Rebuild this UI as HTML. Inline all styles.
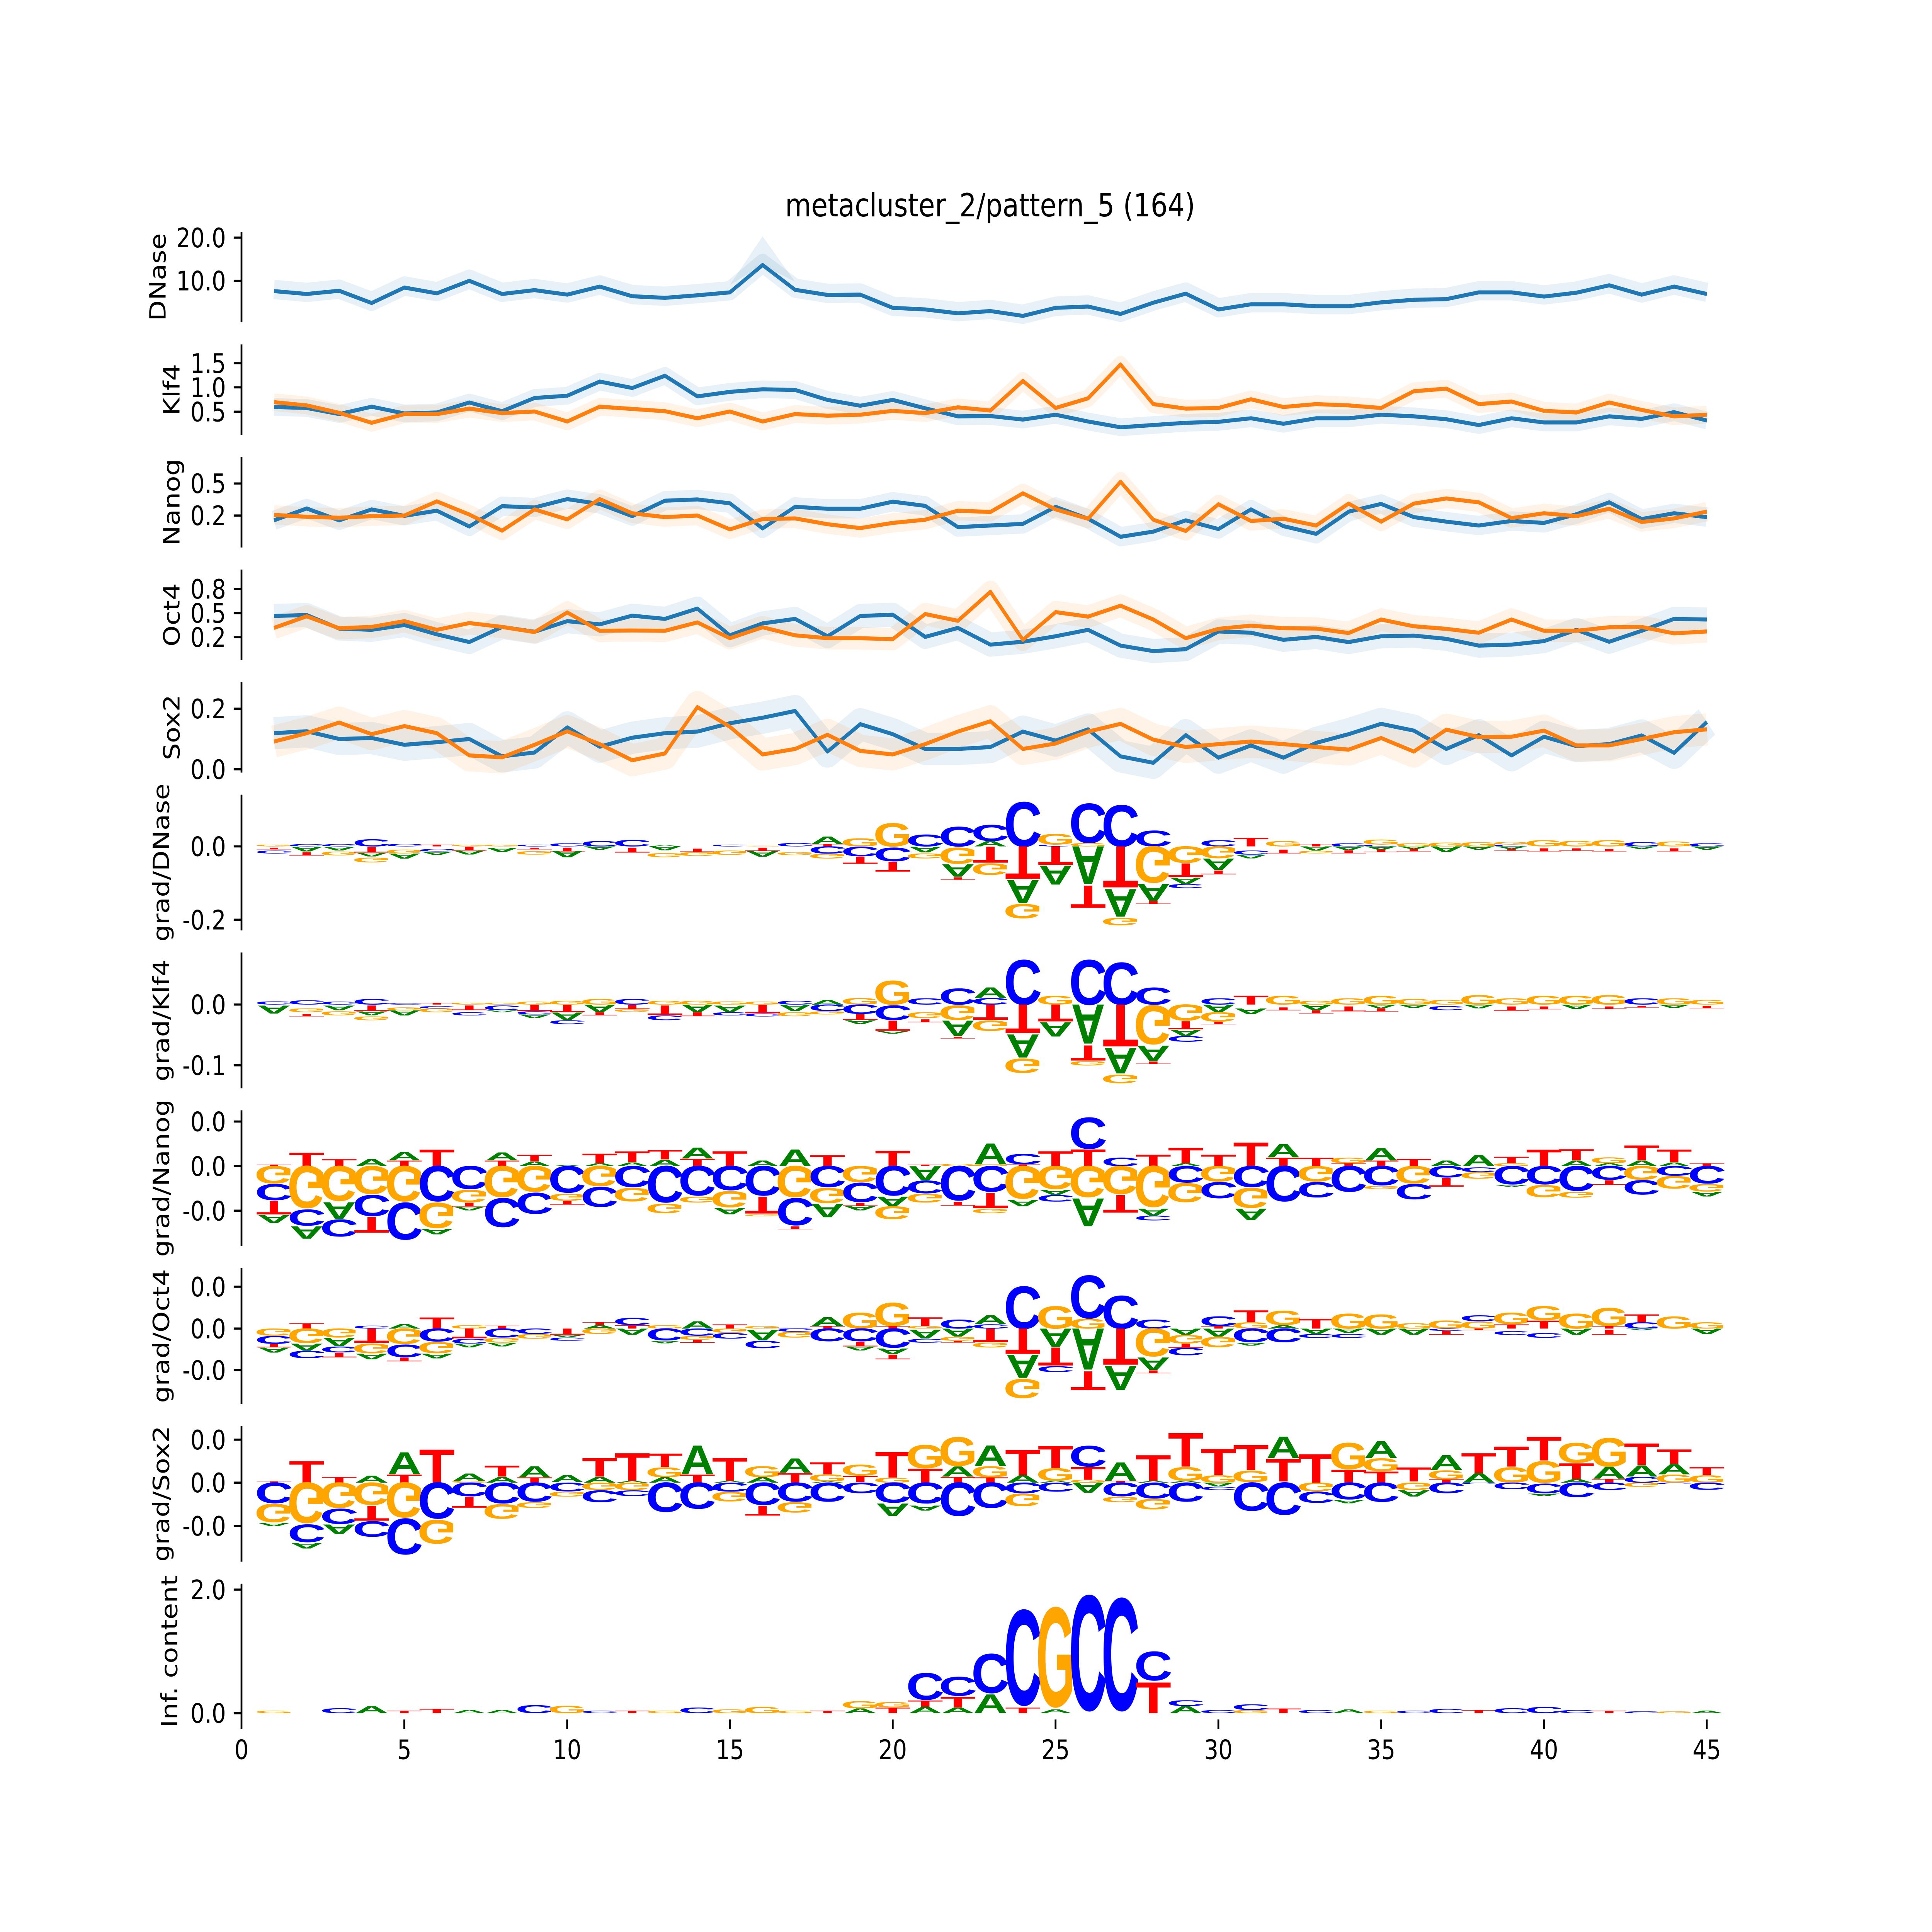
<!DOCTYPE html>
<html><head><meta charset="utf-8">
<style>
html,body{margin:0;padding:0;width:100%;height:100%;overflow:hidden;background:#fff}
svg{display:block;width:100vw;height:100vh}
.L text{font-family:"Liberation Sans",sans-serif;font-weight:bold;font-size:100px;text-anchor:middle}
.a{fill:#008000}.c{fill:#0000ff}.g{fill:#ffa500}.t{fill:#ff0000}
.tk{font-family:"DejaVu Sans","Liberation Sans",sans-serif;font-size:83.3px;fill:#000}
.yl text{text-anchor:end}
.xl text{text-anchor:middle}
.lab text{text-anchor:middle}
</style></head><body>
<svg width="7200" height="6000" viewBox="0 0 7200 6000" preserveAspectRatio="none" xmlns="http://www.w3.org/2000/svg">
<rect width="7200" height="6000" fill="#fff"/>
<text x="3690" y="672" font-family="DejaVu Sans, Liberation Sans, sans-serif" font-size="100" text-anchor="middle">metacluster_2/pattern_5 (164)</text>

<g stroke="#000" stroke-width="6.7" fill="none">
<line x1="900" y1="720" x2="900" y2="1001"/>
<line x1="900" y1="1069.6" x2="900" y2="1350.6"/>
<line x1="900" y1="1419.2" x2="900" y2="1700.2"/>
<line x1="900" y1="1768.8" x2="900" y2="2049.8"/>
<line x1="900" y1="2118.4" x2="900" y2="2399.4"/>
<line x1="900" y1="2468" x2="900" y2="2889.5"/>
<line x1="900" y1="2958.1" x2="900" y2="3379.6"/>
<line x1="900" y1="3448.2" x2="900" y2="3869.7"/>
<line x1="900" y1="3938.3" x2="900" y2="4359.8"/>
<line x1="900" y1="4428.4" x2="900" y2="4849.9"/>
<line x1="900" y1="4918.5" x2="900" y2="5340"/>
<path d="M871 738H900M871 872H900M871 1128H900M871 1203H900M871 1278.5H900M871 1501.5H900M871 1601H900M871 1829H900M871 1904H900M871 1979H900M871 2201H900M871 2389H900M871 2628.6H900M871 2856.4H900M871 3119.7H900M871 3308.3H900M871 3483H900M871 3621.5H900M871 3760H900M871 3996H900M871 4126H900M871 4255H900M871 4471H900M871 4604.6H900M871 4739H900M871 4936.7H900M871 5320.4H900"/>
<path d="M900 5340V5369M1506.75 5340V5369M2113.5 5340V5369M2720.25 5340V5369M3327 5340V5369M3933.75 5340V5369M4540.5 5340V5369M5147.25 5340V5369M5754 5340V5369M6360.75 5340V5369"/>
</g>

<g class="tk yl">
<text x="842" y="768">20.0</text><text x="842" y="902">10.0</text>
<text x="842" y="1158">1.5</text><text x="842" y="1233">1.0</text><text x="842" y="1308.5">0.5</text>
<text x="842" y="1531.5">0.5</text><text x="842" y="1631">0.2</text>
<text x="842" y="1859">0.8</text><text x="842" y="1934">0.5</text><text x="842" y="2009">0.2</text>
<text x="842" y="2231">0.2</text><text x="842" y="2419">0.0</text>
<text x="842" y="2658.6">0.0</text><text x="842" y="2886.4">-0.2</text>
<text x="842" y="3149.7">0.0</text><text x="842" y="3338.3">-0.1</text>
<text x="842" y="3513">0.0</text><text x="842" y="3651.5">0.0</text><text x="842" y="3790">-0.0</text>
<text x="842" y="4026">0.0</text><text x="842" y="4156">0.0</text><text x="842" y="4285">-0.0</text>
<text x="842" y="4501">0.0</text><text x="842" y="4634.6">0.0</text><text x="842" y="4769">-0.0</text>
<text x="842" y="4966.7">2.0</text><text x="842" y="5350.4">0.0</text>
</g>
<g class="tk xl">
<text x="900" y="5463">0</text><text x="1506.75" y="5463">5</text><text x="2113.5" y="5463">10</text><text x="2720.25" y="5463">15</text><text x="3327" y="5463">20</text><text x="3933.75" y="5463">25</text><text x="4540.5" y="5463">30</text><text x="5147.25" y="5463">35</text><text x="5754" y="5463">40</text><text x="6360.75" y="5463">45</text>
</g>
<g class="tk lab">
<text transform="translate(617 860.5) rotate(-90)">DNase</text>
<text transform="translate(669 1210) rotate(-90)">Klf4</text>
<text transform="translate(669 1559.7) rotate(-90)">Nanog</text>
<text transform="translate(669 1909.3) rotate(-90)">Oct4</text>
<text transform="translate(669 2258.9) rotate(-90)">Sox2</text>
<text transform="translate(630 2678.8) rotate(-90)">grad/DNase</text>
<text transform="translate(630 3168.9) rotate(-90)">grad/Klf4</text>
<text transform="translate(630 3659) rotate(-90)">grad/Nanog</text>
<text transform="translate(630 4149) rotate(-90)">grad/Oct4</text>
<text transform="translate(630 4639) rotate(-90)">grad/Sox2</text>
<text transform="translate(660 5129) rotate(-90)">Inf. content</text>
</g>

<g fill="none" stroke-linejoin="round" stroke-linecap="butt">
<polygon points="2720,885 2842,734 2963,875 2842,823" fill="#1f77b4" fill-opacity=".1" stroke="none"/>
<polyline stroke="#1f77b4" stroke-opacity=".1" stroke-width="60" points="1021,899 1143,908 1264,898 1385,936 1507,888 1628,906 1749,867 1871,908 1992,896 2114,910 2235,885 2356,915 2478,920 2599,912 2720,903 2842,818 2963,895 3084,911 3206,910 3327,951 3448,956 3570,968 3691,961 3812,976 3934,951 4055,947 4176,970 4298,935 4419,907 4541,956 4662,940 4783,940 4905,946 5026,946 5147,934 5269,926 5390,924 5511,903 5633,903 5754,916 5875,904 5997,881 6118,910 6239,885 6361,908"/>
<polyline stroke="#1f77b4" stroke-opacity=".1" stroke-width="55" points="1021,1264 1143,1267 1264,1286 1385,1263 1507,1284 1628,1281 1749,1250 1871,1277 1992,1236 2114,1229 2235,1185 2356,1205 2478,1167 2599,1231 2720,1217 2842,1209 2963,1211 3084,1242 3206,1260 3327,1242 3448,1268 3570,1293 3691,1292 3812,1303 3934,1288 4055,1309 4176,1327 4298,1320 4419,1313 4541,1310 4662,1299 4783,1316 4905,1299 5026,1299 5147,1288 5269,1293 5390,1302 5511,1320 5633,1299 5754,1312 5875,1312 5997,1293 6118,1301 6239,1280 6361,1306"/>
<polyline stroke="#ff7f0e" stroke-opacity=".1" stroke-width="55" points="1021,1249 1143,1259 1264,1282 1385,1313 1507,1286 1628,1286 1749,1269 1871,1283 1992,1278 2114,1309 2235,1263 2356,1270 2478,1277 2599,1299 2720,1278 2842,1309 2963,1286 3084,1291 3206,1288 3327,1276 3448,1283 3570,1265 3691,1275 3812,1183 3934,1267 4055,1237 4176,1132 4298,1255 4419,1269 4541,1267 4662,1240 4783,1264 4905,1255 5026,1259 5147,1267 5269,1215 5390,1207 5511,1255 5633,1247 5754,1276 5875,1281 5997,1250 6118,1273 6239,1293 6361,1288"/>
<polyline stroke="#1f77b4" stroke-opacity=".1" stroke-width="60" points="1021,1616 1143,1579 1264,1616 1385,1582 1507,1602 1628,1586 1749,1635 1871,1572 1992,1576 2114,1550 2235,1565 2356,1603 2478,1555 2599,1551 2720,1563 2842,1641 2963,1574 3084,1580 3206,1580 3327,1558 3448,1571 3570,1637 3691,1632 3812,1627 3934,1574 4055,1611 4176,1667 4298,1651 4419,1616 4541,1643 4662,1582 4783,1634 4905,1658 5026,1589 5147,1565 5269,1606 5390,1620 5511,1632 5633,1618 5754,1624 5875,1597 5997,1560 6118,1612 6239,1594 6361,1606"/>
<polyline stroke="#ff7f0e" stroke-opacity=".1" stroke-width="60" points="1021,1599 1143,1605 1264,1608 1385,1603 1507,1601 1628,1557 1749,1598 1871,1648 1992,1582 2114,1613 2235,1550 2356,1594 2478,1606 2599,1601 2720,1644 2842,1612 2963,1610 3084,1628 3206,1640 3327,1624 3448,1614 3570,1586 3691,1590 3812,1532 3934,1582 4055,1611 4176,1496 4298,1614 4419,1649 4541,1566 4662,1618 4783,1611 4905,1632 5026,1564 5147,1620 5269,1564 5390,1548 5511,1560 5633,1609 5754,1594 5875,1603 5997,1580 6118,1621 6239,1610 6361,1589"/>
<polyline stroke="#1f77b4" stroke-opacity=".1" stroke-width="75" points="1021,1913 1143,1910 1264,1952 1385,1956 1507,1941 1628,1970 1749,1994 1871,1947 1992,1962 2114,1929 2235,1939 2356,1912 2478,1922 2599,1890 2720,1973 2842,1936 2963,1922 3084,1976 3206,1913 3327,1909 3448,1978 3570,1950 3691,2002 3812,1993 3934,1976 4055,1956 4176,2005 4298,2022 4419,2016 4541,1961 4662,1965 4783,1987 4905,1978 5026,1994 5147,1976 5269,1974 5390,1984 5511,2005 5633,2002 5754,1991 5875,1956 5997,1993 6118,1959 6239,1922 6361,1924"/>
<polyline stroke="#ff7f0e" stroke-opacity=".1" stroke-width="70" points="1021,1950 1143,1914 1264,1951 1385,1947 1507,1929 1628,1956 1749,1935 1871,1947 1992,1963 2114,1902 2235,1959 2356,1958 2478,1959 2599,1933 2720,1982 2842,1948 2963,1973 3084,1982 3206,1982 3327,1985 3448,1907 3570,1928 3691,1838 3812,1987 3934,1901 4055,1915 4176,1881 4298,1924 4419,1982 4541,1953 4662,1943 4783,1951 4905,1952 5026,1966 5147,1924 5269,1945 5390,1953 5511,1965 5633,1924 5754,1959 5875,1959 5997,1948 6118,1947 6239,1967 6361,1961"/>
<polyline stroke="#1f77b4" stroke-opacity=".1" stroke-width="100" points="1021,2277 1143,2271 1264,2295 1385,2292 1507,2313 1628,2305 1749,2295 1871,2349 1992,2337 2114,2259 2235,2319 2356,2291 2478,2277 2599,2272 2720,2246 2842,2229 2963,2208 3084,2334 3206,2249 3327,2280 3448,2326 3570,2326 3691,2320 3812,2272 3934,2300 4055,2265 4176,2349 4298,2369 4419,2283 4541,2353 4662,2315 4783,2353 4905,2307 5026,2280 5147,2248 5269,2269 5390,2326 5511,2283 5633,2346 5754,2288 5875,2317 5997,2311 6118,2284 6239,2338 6361,2242"/>
<polyline stroke="#ff7f0e" stroke-opacity=".1" stroke-width="100" points="1021,2303 1143,2277 1264,2244 1385,2280 1507,2255 1628,2277 1749,2346 1871,2352 1992,2313 2114,2271 2235,2311 2356,2361 2478,2340 2599,2196 2720,2257 2842,2343 2963,2326 3084,2282 3206,2332 3327,2343 3448,2311 3570,2272 3691,2240 3812,2326 3934,2309 4055,2272 4176,2248 4298,2297 4419,2320 4541,2311 4662,2303 4783,2311 4905,2320 5026,2328 5147,2292 5269,2334 5390,2266 5511,2289 5633,2288 5754,2269 5875,2315 5997,2315 6118,2295 6239,2274 6361,2265"/>
</g>
<g fill="none" stroke-width="12.5" stroke-linejoin="round" stroke-linecap="butt">
<polyline stroke="#1f77b4" points="1021,904 1143,913 1264,903 1385,941 1507,893 1628,911 1749,872 1871,913 1992,901 2114,915 2235,890 2356,920 2478,925 2599,917 2720,908 2842,823 2963,900 3084,916 3206,915 3327,956 3448,961 3570,973 3691,966 3812,981 3934,956 4055,952 4176,975 4298,940 4419,912 4541,961 4662,945 4783,945 4905,951 5026,951 5147,939 5269,931 5390,929 5511,908 5633,908 5754,921 5875,909 5997,886 6118,915 6239,890 6361,913"/>
<polyline stroke="#1f77b4" points="1021,1264 1143,1267 1264,1286 1385,1263 1507,1284 1628,1281 1749,1250 1871,1277 1992,1236 2114,1229 2235,1185 2356,1205 2478,1167 2599,1231 2720,1217 2842,1209 2963,1211 3084,1242 3206,1260 3327,1242 3448,1268 3570,1293 3691,1292 3812,1303 3934,1288 4055,1309 4176,1327 4298,1320 4419,1313 4541,1310 4662,1299 4783,1316 4905,1299 5026,1299 5147,1288 5269,1293 5390,1302 5511,1320 5633,1299 5754,1312 5875,1312 5997,1293 6118,1301 6239,1280 6361,1306"/>
<polyline stroke="#ff7f0e" points="1021,1249 1143,1259 1264,1282 1385,1313 1507,1286 1628,1286 1749,1269 1871,1283 1992,1278 2114,1309 2235,1263 2356,1270 2478,1277 2599,1299 2720,1278 2842,1309 2963,1286 3084,1291 3206,1288 3327,1276 3448,1283 3570,1265 3691,1275 3812,1183 3934,1267 4055,1237 4176,1132 4298,1255 4419,1269 4541,1267 4662,1240 4783,1264 4905,1255 5026,1259 5147,1267 5269,1215 5390,1207 5511,1255 5633,1247 5754,1276 5875,1281 5997,1250 6118,1273 6239,1293 6361,1288"/>
<polyline stroke="#1f77b4" points="1021,1616 1143,1579 1264,1616 1385,1582 1507,1602 1628,1586 1749,1635 1871,1572 1992,1576 2114,1550 2235,1565 2356,1603 2478,1555 2599,1551 2720,1563 2842,1641 2963,1574 3084,1580 3206,1580 3327,1558 3448,1571 3570,1637 3691,1632 3812,1627 3934,1574 4055,1611 4176,1667 4298,1651 4419,1616 4541,1643 4662,1582 4783,1634 4905,1658 5026,1589 5147,1565 5269,1606 5390,1620 5511,1632 5633,1618 5754,1624 5875,1597 5997,1560 6118,1612 6239,1594 6361,1606"/>
<polyline stroke="#ff7f0e" points="1021,1599 1143,1605 1264,1608 1385,1603 1507,1601 1628,1557 1749,1598 1871,1648 1992,1582 2114,1613 2235,1550 2356,1594 2478,1606 2599,1601 2720,1644 2842,1612 2963,1610 3084,1628 3206,1640 3327,1624 3448,1614 3570,1586 3691,1590 3812,1532 3934,1582 4055,1611 4176,1496 4298,1614 4419,1649 4541,1566 4662,1618 4783,1611 4905,1632 5026,1564 5147,1620 5269,1564 5390,1548 5511,1560 5633,1609 5754,1594 5875,1603 5997,1580 6118,1621 6239,1610 6361,1589"/>
<polyline stroke="#1f77b4" points="1021,1913 1143,1910 1264,1952 1385,1956 1507,1941 1628,1970 1749,1994 1871,1947 1992,1962 2114,1929 2235,1939 2356,1912 2478,1922 2599,1890 2720,1973 2842,1936 2963,1922 3084,1976 3206,1913 3327,1909 3448,1978 3570,1950 3691,2002 3812,1993 3934,1976 4055,1956 4176,2005 4298,2022 4419,2016 4541,1961 4662,1965 4783,1987 4905,1978 5026,1994 5147,1976 5269,1974 5390,1984 5511,2005 5633,2002 5754,1991 5875,1956 5997,1993 6118,1959 6239,1922 6361,1924"/>
<polyline stroke="#ff7f0e" points="1021,1950 1143,1914 1264,1951 1385,1947 1507,1929 1628,1956 1749,1935 1871,1947 1992,1963 2114,1902 2235,1959 2356,1958 2478,1959 2599,1933 2720,1982 2842,1948 2963,1973 3084,1982 3206,1982 3327,1985 3448,1907 3570,1928 3691,1838 3812,1987 3934,1901 4055,1915 4176,1881 4298,1924 4419,1982 4541,1953 4662,1943 4783,1951 4905,1952 5026,1966 5147,1924 5269,1945 5390,1953 5511,1965 5633,1924 5754,1959 5875,1959 5997,1948 6118,1947 6239,1967 6361,1961"/>
<polyline stroke="#1f77b4" points="1021,2277 1143,2271 1264,2295 1385,2292 1507,2313 1628,2305 1749,2295 1871,2349 1992,2337 2114,2259 2235,2319 2356,2291 2478,2277 2599,2272 2720,2246 2842,2229 2963,2208 3084,2334 3206,2249 3327,2280 3448,2326 3570,2326 3691,2320 3812,2272 3934,2300 4055,2265 4176,2349 4298,2369 4419,2283 4541,2353 4662,2315 4783,2353 4905,2307 5026,2280 5147,2248 5269,2269 5390,2326 5511,2283 5633,2346 5754,2288 5875,2317 5997,2311 6118,2284 6239,2338 6361,2242"/>
<polyline stroke="#ff7f0e" points="1021,2303 1143,2277 1264,2244 1385,2280 1507,2255 1628,2277 1749,2346 1871,2352 1992,2313 2114,2271 2235,2311 2356,2361 2478,2340 2599,2196 2720,2257 2842,2343 2963,2326 3084,2282 3206,2332 3327,2343 3448,2311 3570,2272 3691,2240 3812,2326 3934,2309 4055,2272 4176,2248 4298,2297 4419,2320 4541,2311 4662,2303 4783,2311 4905,2320 5026,2328 5147,2292 5269,2334 5390,2266 5511,2289 5633,2288 5754,2269 5875,2315 5997,2315 6118,2295 6239,2274 6361,2265"/>
</g>

<g class="L" transform="translate(0 2628.6)">
<text class="g" transform="matrix(1.87 0 0 .08 1021 0)">G</text><text class="t" transform="matrix(2.19 0 0 -.08 1021 4)">T</text><text class="c" transform="matrix(1.98 0 0 -.13 1021 13)">C</text>
<text class="c" transform="matrix(1.98 0 0 .1 1143 0)">C</text><text class="a" transform="matrix(1.76 0 0 -.21 1143 1)">A</text><text class="t" transform="matrix(2.19 0 0 -.15 1143 18)">T</text>
<text class="c" transform="matrix(1.98 0 0 .1 1264 0)">C</text><text class="a" transform="matrix(1.76 0 0 -.15 1264 2)">A</text><text class="g" transform="matrix(1.87 0 0 -.17 1264 16)">G</text>
<text class="c" transform="matrix(1.98 0 0 .32 1385 0)">C</text><text class="t" transform="matrix(2.19 0 0 -.25 1385 2)">T</text><text class="a" transform="matrix(1.76 0 0 -.17 1385 20)">A</text><text class="g" transform="matrix(1.87 0 0 -.21 1385 35)">G</text>
<text class="c" transform="matrix(1.98 0 0 .11 1507 0)">C</text><text class="g" transform="matrix(1.87 0 0 -.17 1507 10)">G</text><text class="a" transform="matrix(1.76 0 0 -.22 1507 22)">A</text>
<text class="t" transform="matrix(2.19 0 0 .08 1628 0)">T</text><text class="c" transform="matrix(1.98 0 0 -.11 1628 8)">C</text><text class="a" transform="matrix(1.76 0 0 -.14 1628 16)">A</text>
<text class="g" transform="matrix(1.87 0 0 .07 1749 0)">G</text><text class="t" transform="matrix(2.19 0 0 -.17 1749 1)">T</text><text class="a" transform="matrix(1.76 0 0 -.18 1749 13)">A</text>
<text class="g" transform="matrix(1.87 0 0 .07 1871 0)">G</text><text class="a" transform="matrix(1.76 0 0 -.19 1871 4)">A</text>
<text class="c" transform="matrix(1.98 0 0 .08 1992 0)">C</text><text class="t" transform="matrix(2.19 0 0 -.08 1992 4)">T</text><text class="g" transform="matrix(1.87 0 0 -.15 1992 15)">G</text>
<text class="c" transform="matrix(1.98 0 0 .14 2114 0)">C</text><text class="t" transform="matrix(2.19 0 0 -.17 2114 4)">T</text><text class="a" transform="matrix(1.76 0 0 -.29 2114 14)">A</text>
<text class="c" transform="matrix(1.98 0 0 .24 2235 0)">C</text><text class="a" transform="matrix(1.76 0 0 -.14 2235 0)">A</text>
<text class="c" transform="matrix(1.98 0 0 .29 2356 0)">C</text><text class="t" transform="matrix(2.19 0 0 -.22 2356 4)">T</text>
<text class="a" transform="matrix(1.76 0 0 .06 2478 0)">A</text><text class="a" transform="matrix(1.76 0 0 -.18 2478 0)">A</text><text class="g" transform="matrix(1.87 0 0 -.18 2478 21)">G</text>
<text class="t" transform="matrix(2.19 0 0 -.15 2599 7)">T</text><text class="g" transform="matrix(1.87 0 0 -.17 2599 18)">G</text>
<text class="c" transform="matrix(1.98 0 0 .08 2720 0)">C</text><text class="g" transform="matrix(1.87 0 0 -.19 2720 13)">G</text>
<text class="g" transform="matrix(1.87 0 0 .03 2842 0)">G</text><text class="t" transform="matrix(2.19 0 0 -.15 2842 4)">T</text><text class="a" transform="matrix(1.76 0 0 -.24 2842 15)">A</text>
<text class="c" transform="matrix(1.98 0 0 .15 2963 0)">C</text><text class="g" transform="matrix(1.87 0 0 -.13 2963 18)">G</text>
<text class="a" transform="matrix(1.76 0 0 .33 3084 -8)">A</text><text class="t" transform="matrix(2.19 0 0 .11 3084 0)">T</text><text class="c" transform="matrix(1.98 0 0 -.32 3084 0)">C</text><text class="g" transform="matrix(1.87 0 0 -.21 3084 23)">G</text>
<text class="g" transform="matrix(1.87 0 0 .36 3206 0)">G</text><text class="c" transform="matrix(1.98 0 0 -.43 3206 1)">C</text><text class="t" transform="matrix(2.19 0 0 -.32 3206 32)">T</text>
<text class="g" transform="matrix(1.87 0 0 1.04 3327 0)">G</text><text class="c" transform="matrix(1.98 0 0 -.61 3327 4)">C</text><text class="t" transform="matrix(2.19 0 0 -.44 3327 48)">T</text>
<text class="c" transform="matrix(1.98 0 0 .53 3448 0)">C</text><text class="a" transform="matrix(1.76 0 0 -.26 3448 1)">A</text><text class="g" transform="matrix(1.87 0 0 -.22 3448 22)">G</text>
<text class="c" transform="matrix(1.98 0 0 .88 3570 0)">C</text><text class="g" transform="matrix(1.87 0 0 -.72 3570 4)">G</text><text class="a" transform="matrix(1.76 0 0 -.56 3570 56)">A</text><text class="t" transform="matrix(2.19 0 0 -.11 3570 96)">T</text>
<text class="c" transform="matrix(1.98 0 0 .72 3691 -17)">C</text><text class="a" transform="matrix(1.76 0 0 .24 3691 0)">A</text><text class="t" transform="matrix(2.19 0 0 -.72 3691 1)">T</text><text class="g" transform="matrix(1.87 0 0 -.51 3691 53)">G</text>
<text class="c" transform="matrix(1.98 0 0 1.99 3812 0)">C</text><text class="t" transform="matrix(2.19 0 0 -1.46 3812 0)">T</text><text class="a" transform="matrix(1.76 0 0 -1.03 3812 105)">A</text><text class="g" transform="matrix(1.87 0 0 -.64 3812 179)">G</text>
<text class="g" transform="matrix(1.87 0 0 .47 3934 -6)">G</text><text class="c" transform="matrix(1.98 0 0 .08 3934 0)">C</text><text class="t" transform="matrix(2.19 0 0 -.83 3934 0)">T</text><text class="a" transform="matrix(1.76 0 0 -.85 3934 60)">A</text>
<text class="c" transform="matrix(1.98 0 0 1.76 4055 -11)">C</text><text class="g" transform="matrix(1.87 0 0 .15 4055 0)">G</text><text class="a" transform="matrix(1.76 0 0 -1.69 4055 0)">A</text><text class="t" transform="matrix(2.19 0 0 -1 4055 122)">T</text>
<text class="c" transform="matrix(1.98 0 0 1.85 4176 0)">C</text><text class="t" transform="matrix(2.19 0 0 -1.85 4176 0)">T</text><text class="a" transform="matrix(1.76 0 0 -1.24 4176 133)">A</text><text class="g" transform="matrix(1.87 0 0 -.33 4176 222)">G</text>
<text class="c" transform="matrix(1.98 0 0 .71 4298 0)">C</text><text class="g" transform="matrix(1.87 0 0 -1.63 4298 0)">G</text><text class="a" transform="matrix(1.76 0 0 -.74 4298 117)">A</text><text class="t" transform="matrix(2.19 0 0 -.13 4298 170)">T</text>
<text class="g" transform="matrix(1.87 0 0 -.74 4419 0)">G</text><text class="t" transform="matrix(2.19 0 0 -.61 4419 53)">T</text><text class="a" transform="matrix(1.76 0 0 -.28 4419 97)">A</text><text class="c" transform="matrix(1.98 0 0 -.18 4419 117)">C</text>
<text class="c" transform="matrix(1.98 0 0 .28 4541 0)">C</text><text class="g" transform="matrix(1.87 0 0 -.53 4541 0)">G</text><text class="a" transform="matrix(1.76 0 0 -.51 4541 38)">A</text><text class="t" transform="matrix(2.19 0 0 -.17 4541 75)">T</text>
<text class="t" transform="matrix(2.19 0 0 .39 4662 0)">T</text><text class="c" transform="matrix(1.98 0 0 -.18 4662 13)">C</text><text class="a" transform="matrix(1.76 0 0 -.17 4662 26)">A</text>
<text class="g" transform="matrix(1.87 0 0 .24 4783 0)">G</text><text class="t" transform="matrix(2.19 0 0 -.17 4783 10)">T</text>
<text class="t" transform="matrix(2.19 0 0 .11 4905 0)">T</text><text class="a" transform="matrix(1.76 0 0 -.19 4905 0)">A</text><text class="g" transform="matrix(1.87 0 0 -.11 4905 14)">G</text>
<text class="c" transform="matrix(1.98 0 0 .14 5026 0)">C</text><text class="a" transform="matrix(1.76 0 0 -.17 5026 0)">A</text><text class="t" transform="matrix(2.19 0 0 -.14 5026 12)">T</text>
<text class="g" transform="matrix(1.87 0 0 .22 5147 -6)">G</text><text class="c" transform="matrix(1.98 0 0 .08 5147 0)">C</text><text class="a" transform="matrix(1.76 0 0 -.14 5147 0)">A</text><text class="t" transform="matrix(2.19 0 0 -.11 5147 10)">T</text>
<text class="g" transform="matrix(1.87 0 0 .14 5269 0)">G</text><text class="a" transform="matrix(1.76 0 0 -.11 5269 0)">A</text><text class="t" transform="matrix(2.19 0 0 -.11 5269 8)">T</text>
<text class="g" transform="matrix(1.87 0 0 .17 5390 0)">G</text><text class="a" transform="matrix(1.76 0 0 -.25 5390 0)">A</text>
<text class="g" transform="matrix(1.87 0 0 .19 5511 0)">G</text><text class="a" transform="matrix(1.76 0 0 -.14 5511 0)">A</text>
<text class="g" transform="matrix(1.87 0 0 .11 5633 -6)">G</text><text class="c" transform="matrix(1.98 0 0 .08 5633 0)">C</text><text class="a" transform="matrix(1.76 0 0 -.11 5633 0)">A</text><text class="t" transform="matrix(2.19 0 0 -.08 5633 8)">T</text>
<text class="g" transform="matrix(1.87 0 0 .28 5754 0)">G</text><text class="t" transform="matrix(2.19 0 0 -.14 5754 6)">T</text>
<text class="g" transform="matrix(1.87 0 0 .25 5875 0)">G</text><text class="t" transform="matrix(2.19 0 0 -.11 5875 6)">T</text>
<text class="g" transform="matrix(1.87 0 0 .28 5997 0)">G</text><text class="t" transform="matrix(2.19 0 0 -.11 5997 8)">T</text>
<text class="c" transform="matrix(1.98 0 0 .19 6118 0)">C</text><text class="a" transform="matrix(1.76 0 0 -.11 6118 0)">A</text>
<text class="g" transform="matrix(1.87 0 0 .22 6239 0)">G</text><text class="t" transform="matrix(2.19 0 0 -.14 6239 6)">T</text>
<text class="c" transform="matrix(1.98 0 0 .14 6361 0)">C</text><text class="a" transform="matrix(1.76 0 0 -.14 6361 0)">A</text>
</g>

<g class="L" transform="translate(0 3119.7)">
<text class="c" transform="matrix(1.98 0 0 .14 1021 0)">C</text><text class="a" transform="matrix(1.76 0 0 -.35 1021 3)">A</text>
<text class="c" transform="matrix(1.98 0 0 .19 1143 0)">C</text><text class="g" transform="matrix(1.87 0 0 -.17 1143 12)">G</text><text class="t" transform="matrix(2.19 0 0 -.1 1143 30)">T</text>
<text class="c" transform="matrix(1.98 0 0 .13 1264 0)">C</text><text class="a" transform="matrix(1.76 0 0 -.21 1264 3)">A</text><text class="g" transform="matrix(1.87 0 0 -.18 1264 21)">G</text>
<text class="c" transform="matrix(1.98 0 0 .25 1385 0)">C</text><text class="t" transform="matrix(2.19 0 0 -.25 1385 3)">T</text><text class="a" transform="matrix(1.76 0 0 -.18 1385 21)">A</text><text class="g" transform="matrix(1.87 0 0 -.17 1385 37)">G</text>
<text class="c" transform="matrix(1.98 0 0 .06 1507 0)">C</text><text class="g" transform="matrix(1.87 0 0 -.13 1507 9)">G</text><text class="a" transform="matrix(1.76 0 0 -.22 1507 18)">A</text>
<text class="t" transform="matrix(2.19 0 0 .07 1628 0)">T</text><text class="c" transform="matrix(1.98 0 0 -.1 1628 5)">C</text><text class="g" transform="matrix(1.87 0 0 -.17 1628 12)">G</text>
<text class="g" transform="matrix(1.87 0 0 .08 1749 0)">G</text><text class="t" transform="matrix(2.19 0 0 -.21 1749 3)">T</text><text class="c" transform="matrix(1.98 0 0 -.14 1749 24)">C</text>
<text class="g" transform="matrix(1.87 0 0 .08 1871 0)">G</text><text class="c" transform="matrix(1.98 0 0 -.21 1871 3)">C</text><text class="a" transform="matrix(1.76 0 0 -.08 1871 18)">A</text>
<text class="g" transform="matrix(1.87 0 0 .13 1992 0)">G</text><text class="t" transform="matrix(2.19 0 0 -.28 1992 1)">T</text><text class="c" transform="matrix(1.98 0 0 -.14 1992 21)">C</text><text class="a" transform="matrix(1.76 0 0 -.17 1992 31)">A</text>
<text class="g" transform="matrix(1.87 0 0 .17 2114 0)">G</text><text class="t" transform="matrix(2.19 0 0 -.33 2114 1)">T</text><text class="a" transform="matrix(1.76 0 0 -.33 2114 25)">A</text><text class="c" transform="matrix(1.98 0 0 -.17 2114 49)">C</text>
<text class="g" transform="matrix(1.87 0 0 .25 2235 0)">G</text><text class="a" transform="matrix(1.76 0 0 -.33 2235 0)">A</text><text class="t" transform="matrix(2.19 0 0 -.14 2235 24)">T</text>
<text class="c" transform="matrix(1.98 0 0 .25 2356 0)">C</text><text class="t" transform="matrix(2.19 0 0 -.19 2356 1)">T</text><text class="g" transform="matrix(1.87 0 0 -.11 2356 15)">G</text>
<text class="g" transform="matrix(1.87 0 0 .17 2478 0)">G</text><text class="t" transform="matrix(2.19 0 0 -.43 2478 3)">T</text><text class="c" transform="matrix(1.98 0 0 -.21 2478 34)">C</text>
<text class="g" transform="matrix(1.87 0 0 .17 2599 0)">G</text><text class="a" transform="matrix(1.76 0 0 -.33 2599 0)">A</text><text class="t" transform="matrix(2.19 0 0 -.18 2599 24)">T</text>
<text class="g" transform="matrix(1.87 0 0 .14 2720 0)">G</text><text class="a" transform="matrix(1.76 0 0 -.29 2720 3)">A</text><text class="c" transform="matrix(1.98 0 0 -.14 2720 24)">C</text>
<text class="g" transform="matrix(1.87 0 0 .13 2842 0)">G</text><text class="t" transform="matrix(2.19 0 0 -.38 2842 1)">T</text><text class="c" transform="matrix(1.98 0 0 -.13 2842 28)">C</text>
<text class="c" transform="matrix(1.98 0 0 .17 2963 0)">C</text><text class="a" transform="matrix(1.76 0 0 -.29 2963 0)">A</text><text class="g" transform="matrix(1.87 0 0 -.18 2963 24)">G</text>
<text class="a" transform="matrix(1.76 0 0 .21 3084 0)">A</text><text class="c" transform="matrix(1.98 0 0 -.29 3084 0)">C</text><text class="g" transform="matrix(1.87 0 0 -.14 3084 21)">G</text>
<text class="g" transform="matrix(1.87 0 0 .29 3206 0)">G</text><text class="c" transform="matrix(1.98 0 0 -.42 3206 0)">C</text><text class="t" transform="matrix(2.19 0 0 -.26 3206 30)">T</text><text class="a" transform="matrix(1.76 0 0 -.17 3206 49)">A</text>
<text class="g" transform="matrix(1.87 0 0 1.07 3327 0)">G</text><text class="c" transform="matrix(1.98 0 0 -.65 3327 3)">C</text><text class="t" transform="matrix(2.19 0 0 -.46 3327 50)">T</text><text class="a" transform="matrix(1.76 0 0 -.1 3327 83)">A</text>
<text class="c" transform="matrix(1.98 0 0 .28 3448 0)">C</text><text class="g" transform="matrix(1.87 0 0 -.26 3448 24)">G</text><text class="t" transform="matrix(2.19 0 0 -.13 3448 46)">T</text>
<text class="c" transform="matrix(1.98 0 0 .72 3570 0)">C</text><text class="g" transform="matrix(1.87 0 0 -.65 3570 3)">G</text><text class="a" transform="matrix(1.76 0 0 -.69 3570 50)">A</text><text class="t" transform="matrix(2.19 0 0 -.08 3570 100)">T</text>
<text class="a" transform="matrix(1.76 0 0 .47 3691 -21)">A</text><text class="c" transform="matrix(1.98 0 0 .29 3691 0)">C</text><text class="t" transform="matrix(2.19 0 0 -.69 3691 0)">T</text><text class="g" transform="matrix(1.87 0 0 -.46 3691 50)">G</text>
<text class="c" transform="matrix(1.98 0 0 2 3812 0)">C</text><text class="t" transform="matrix(2.19 0 0 -1.29 3812 0)">T</text><text class="a" transform="matrix(1.76 0 0 -1.04 3812 93)">A</text><text class="g" transform="matrix(1.87 0 0 -.64 3812 168)">G</text>
<text class="g" transform="matrix(1.87 0 0 .39 3934 0)">G</text><text class="t" transform="matrix(2.19 0 0 -.76 3934 0)">T</text><text class="a" transform="matrix(1.76 0 0 -.64 3934 55)">A</text>
<text class="c" transform="matrix(1.98 0 0 2 4055 0)">C</text><text class="a" transform="matrix(1.76 0 0 -1.76 4055 0)">A</text><text class="t" transform="matrix(2.19 0 0 -.68 4055 127)">T</text><text class="g" transform="matrix(1.87 0 0 -.19 4055 176)">G</text>
<text class="c" transform="matrix(1.98 0 0 1.88 4176 0)">C</text><text class="t" transform="matrix(2.19 0 0 -1.89 4176 0)">T</text><text class="a" transform="matrix(1.76 0 0 -1.14 4176 136)">A</text><text class="g" transform="matrix(1.87 0 0 -.38 4176 218)">G</text>
<text class="c" transform="matrix(1.98 0 0 .76 4298 0)">C</text><text class="g" transform="matrix(1.87 0 0 -1.74 4298 3)">G</text><text class="a" transform="matrix(1.76 0 0 -.68 4298 128)">A</text><text class="t" transform="matrix(2.19 0 0 -.11 4298 177)">T</text>
<text class="g" transform="matrix(1.87 0 0 -.72 4419 0)">G</text><text class="t" transform="matrix(2.19 0 0 -.36 4419 52)">T</text><text class="a" transform="matrix(1.76 0 0 -.28 4419 78)">A</text><text class="c" transform="matrix(1.98 0 0 -.25 4419 98)">C</text>
<text class="c" transform="matrix(1.98 0 0 .28 4541 0)">C</text><text class="a" transform="matrix(1.76 0 0 -.33 4541 0)">A</text><text class="g" transform="matrix(1.87 0 0 -.42 4541 24)">G</text><text class="t" transform="matrix(2.19 0 0 -.11 4541 54)">T</text>
<text class="t" transform="matrix(2.19 0 0 .4 4662 0)">T</text><text class="a" transform="matrix(1.76 0 0 -.26 4662 12)">A</text>
<text class="g" transform="matrix(1.87 0 0 .39 4783 0)">G</text><text class="t" transform="matrix(2.19 0 0 -.13 4783 9)">T</text>
<text class="g" transform="matrix(1.87 0 0 .17 4905 0)">G</text><text class="a" transform="matrix(1.76 0 0 -.25 4905 0)">A</text><text class="t" transform="matrix(2.19 0 0 -.14 4905 18)">T</text>
<text class="g" transform="matrix(1.87 0 0 .28 5026 0)">G</text><text class="t" transform="matrix(2.19 0 0 -.22 5026 6)">T</text>
<text class="g" transform="matrix(1.87 0 0 .39 5147 0)">G</text><text class="a" transform="matrix(1.76 0 0 -.17 5147 0)">A</text><text class="t" transform="matrix(2.19 0 0 -.14 5147 12)">T</text>
<text class="g" transform="matrix(1.87 0 0 .25 5269 0)">G</text><text class="a" transform="matrix(1.76 0 0 -.14 5269 0)">A</text>
<text class="g" transform="matrix(1.87 0 0 .21 5390 0)">G</text><text class="c" transform="matrix(1.98 0 0 -.18 5390 5)">C</text>
<text class="g" transform="matrix(1.87 0 0 .42 5511 0)">G</text><text class="a" transform="matrix(1.76 0 0 -.17 5511 0)">A</text>
<text class="g" transform="matrix(1.87 0 0 .28 5633 0)">G</text><text class="t" transform="matrix(2.19 0 0 -.19 5633 6)">T</text>
<text class="g" transform="matrix(1.87 0 0 .39 5754 0)">G</text><text class="t" transform="matrix(2.19 0 0 -.13 5754 6)">T</text>
<text class="g" transform="matrix(1.87 0 0 .39 5875 0)">G</text><text class="a" transform="matrix(1.76 0 0 -.19 5875 0)">A</text>
<text class="g" transform="matrix(1.87 0 0 .42 5997 0)">G</text><text class="t" transform="matrix(2.19 0 0 -.11 5997 6)">T</text>
<text class="c" transform="matrix(1.98 0 0 .28 6118 0)">C</text><text class="t" transform="matrix(2.19 0 0 -.08 6118 4)">T</text>
<text class="g" transform="matrix(1.87 0 0 .28 6239 0)">G</text><text class="a" transform="matrix(1.76 0 0 -.14 6239 0)">A</text>
<text class="g" transform="matrix(1.87 0 0 .21 6361 0)">G</text><text class="t" transform="matrix(2.19 0 0 -.11 6361 4)">T</text>
</g>

<g class="L" transform="translate(0 3621.5)">
<text class="t" transform="matrix(2.19 0 0 .07 1021 0)">T</text><text class="g" transform="matrix(1.87 0 0 -.78 1021 0)">G</text><text class="c" transform="matrix(1.98 0 0 -.72 1021 56)">C</text><text class="t" transform="matrix(2.19 0 0 -.61 1021 108)">T</text><text class="a" transform="matrix(1.76 0 0 -.36 1021 152)">A</text>
<text class="t" transform="matrix(2.19 0 0 .6 1143 0)">T</text><text class="g" transform="matrix(1.87 0 0 -1.88 1143 0)">G</text><text class="c" transform="matrix(1.98 0 0 -.72 1143 135)">C</text><text class="a" transform="matrix(1.76 0 0 -.56 1143 187)">A</text>
<text class="t" transform="matrix(2.19 0 0 .31 1264 0)">T</text><text class="g" transform="matrix(1.87 0 0 -1.56 1264 0)">G</text><text class="a" transform="matrix(1.76 0 0 -.75 1264 112)">A</text><text class="c" transform="matrix(1.98 0 0 -.76 1264 166)">C</text>
<text class="a" transform="matrix(1.76 0 0 .31 1385 0)">A</text><text class="g" transform="matrix(1.87 0 0 -1.25 1385 0)">G</text><text class="c" transform="matrix(1.98 0 0 -.94 1385 90)">C</text><text class="t" transform="matrix(2.19 0 0 -.71 1385 158)">T</text>
<text class="a" transform="matrix(1.76 0 0 .38 1507 -18)">A</text><text class="t" transform="matrix(2.19 0 0 .25 1507 0)">T</text><text class="g" transform="matrix(1.87 0 0 -1.58 1507 0)">G</text><text class="c" transform="matrix(1.98 0 0 -1.65 1507 114)">C</text>
<text class="t" transform="matrix(2.19 0 0 .74 1628 0)">T</text><text class="c" transform="matrix(1.98 0 0 -1.58 1628 0)">C</text><text class="g" transform="matrix(1.87 0 0 -1.13 1628 114)">G</text><text class="a" transform="matrix(1.76 0 0 -.24 1628 195)">A</text>
<text class="c" transform="matrix(1.98 0 0 -1.03 1749 0)">C</text><text class="g" transform="matrix(1.87 0 0 -.56 1749 74)">G</text><text class="t" transform="matrix(2.19 0 0 -.17 1749 114)">T</text><text class="a" transform="matrix(1.76 0 0 -.17 1749 126)">A</text>
<text class="a" transform="matrix(1.76 0 0 .35 1871 -18)">A</text><text class="t" transform="matrix(2.19 0 0 .25 1871 0)">T</text><text class="g" transform="matrix(1.87 0 0 -1.39 1871 0)">G</text><text class="c" transform="matrix(1.98 0 0 -1.29 1871 100)">C</text>
<text class="t" transform="matrix(2.19 0 0 .29 1992 -15)">T</text><text class="a" transform="matrix(1.76 0 0 .21 1992 0)">A</text><text class="g" transform="matrix(1.87 0 0 -1.15 1992 0)">G</text><text class="c" transform="matrix(1.98 0 0 -.94 1992 83)">C</text>
<text class="a" transform="matrix(1.76 0 0 .06 2114 0)">A</text><text class="c" transform="matrix(1.98 0 0 -1.19 2114 0)">C</text><text class="g" transform="matrix(1.87 0 0 -.31 2114 86)">G</text><text class="t" transform="matrix(2.19 0 0 -.17 2114 108)">T</text>
<text class="t" transform="matrix(2.19 0 0 .43 2235 -9)">T</text><text class="a" transform="matrix(1.76 0 0 .13 2235 0)">A</text><text class="g" transform="matrix(1.87 0 0 -.9 2235 0)">G</text><text class="c" transform="matrix(1.98 0 0 -.89 2235 65)">C</text>
<text class="t" transform="matrix(2.19 0 0 .49 2356 -12)">T</text><text class="a" transform="matrix(1.76 0 0 .17 2356 0)">A</text><text class="c" transform="matrix(1.98 0 0 -.94 2356 0)">C</text><text class="g" transform="matrix(1.87 0 0 -.6 2356 68)">G</text>
<text class="t" transform="matrix(2.19 0 0 .42 2478 -21)">T</text><text class="a" transform="matrix(1.76 0 0 .29 2478 0)">A</text><text class="c" transform="matrix(1.98 0 0 -1.63 2478 0)">C</text><text class="g" transform="matrix(1.87 0 0 -.42 2478 117)">G</text>
<text class="a" transform="matrix(1.76 0 0 .49 2599 -24)">A</text><text class="t" transform="matrix(2.19 0 0 .33 2599 0)">T</text><text class="c" transform="matrix(1.98 0 0 -1.32 2599 0)">C</text><text class="g" transform="matrix(1.87 0 0 -.26 2599 95)">G</text>
<text class="t" transform="matrix(2.19 0 0 .67 2720 0)">T</text><text class="c" transform="matrix(1.98 0 0 -1.08 2720 0)">C</text><text class="g" transform="matrix(1.87 0 0 -.72 2720 78)">G</text><text class="a" transform="matrix(1.76 0 0 -.28 2720 130)">A</text>
<text class="a" transform="matrix(1.76 0 0 .25 2842 0)">A</text><text class="c" transform="matrix(1.98 0 0 -1.32 2842 0)">C</text><text class="t" transform="matrix(2.19 0 0 -.76 2842 95)">T</text><text class="g" transform="matrix(1.87 0 0 -.08 2842 150)">G</text>
<text class="a" transform="matrix(1.76 0 0 .75 2963 0)">A</text><text class="g" transform="matrix(1.87 0 0 -1.39 2963 0)">G</text><text class="c" transform="matrix(1.98 0 0 -1.21 2963 100)">C</text><text class="t" transform="matrix(2.19 0 0 -.13 2963 187)">T</text>
<text class="t" transform="matrix(2.19 0 0 .49 3084 0)">T</text><text class="c" transform="matrix(1.98 0 0 -.94 3084 0)">C</text><text class="g" transform="matrix(1.87 0 0 -.68 3084 68)">G</text><text class="a" transform="matrix(1.76 0 0 -.6 3084 117)">A</text>
<text class="g" transform="matrix(1.87 0 0 -.72 3206 0)">G</text><text class="c" transform="matrix(1.98 0 0 -.86 3206 52)">C</text><text class="t" transform="matrix(2.19 0 0 -.14 3206 114)">T</text><text class="a" transform="matrix(1.76 0 0 -.19 3206 124)">A</text>
<text class="t" transform="matrix(2.19 0 0 .69 3327 0)">T</text><text class="c" transform="matrix(1.98 0 0 -1.32 3327 0)">C</text><text class="a" transform="matrix(1.76 0 0 -.42 3327 95)">A</text><text class="g" transform="matrix(1.87 0 0 -.57 3327 125)">G</text>
<text class="t" transform="matrix(2.19 0 0 .07 3448 0)">T</text><text class="a" transform="matrix(1.76 0 0 -.63 3448 0)">A</text><text class="c" transform="matrix(1.98 0 0 -.57 3448 45)">C</text><text class="g" transform="matrix(1.87 0 0 -.39 3448 86)">G</text>
<text class="g" transform="matrix(1.87 0 0 .1 3570 0)">G</text><text class="c" transform="matrix(1.98 0 0 -1.54 3570 0)">C</text><text class="t" transform="matrix(2.19 0 0 -.17 3570 111)">T</text>
<text class="a" transform="matrix(1.76 0 0 .94 3691 -6)">A</text><text class="g" transform="matrix(1.87 0 0 .08 3691 0)">G</text><text class="c" transform="matrix(1.98 0 0 -1.15 3691 0)">C</text><text class="t" transform="matrix(2.19 0 0 -.69 3691 83)">T</text><text class="g" transform="matrix(1.87 0 0 -.19 3691 133)">G</text>
<text class="c" transform="matrix(1.98 0 0 .46 3812 -6)">C</text><text class="t" transform="matrix(2.19 0 0 .08 3812 0)">T</text><text class="g" transform="matrix(1.87 0 0 -1.46 3812 0)">G</text><text class="a" transform="matrix(1.76 0 0 -.29 3812 105)">A</text>
<text class="t" transform="matrix(2.19 0 0 .67 3934 0)">T</text><text class="g" transform="matrix(1.87 0 0 -1.03 3934 0)">G</text><text class="a" transform="matrix(1.76 0 0 -.22 3934 74)">A</text><text class="c" transform="matrix(1.98 0 0 -.29 3934 90)">C</text>
<text class="c" transform="matrix(1.98 0 0 1.4 4055 -54)">C</text><text class="t" transform="matrix(2.19 0 0 .75 4055 0)">T</text><text class="g" transform="matrix(1.87 0 0 -1.39 4055 0)">G</text><text class="a" transform="matrix(1.76 0 0 -1.25 4055 100)">A</text>
<text class="c" transform="matrix(1.98 0 0 .38 4176 0)">C</text><text class="g" transform="matrix(1.87 0 0 -1.25 4176 0)">G</text><text class="t" transform="matrix(2.19 0 0 -.79 4176 90)">T</text>
<text class="t" transform="matrix(2.19 0 0 .51 4298 0)">T</text><text class="g" transform="matrix(1.87 0 0 -1.83 4298 0)">G</text><text class="a" transform="matrix(1.76 0 0 -.31 4298 132)">A</text><text class="c" transform="matrix(1.98 0 0 -.21 4298 154)">C</text>
<text class="t" transform="matrix(2.19 0 0 .69 4419 -9)">T</text><text class="a" transform="matrix(1.76 0 0 .13 4419 0)">A</text><text class="c" transform="matrix(1.98 0 0 -.74 4419 0)">C</text><text class="g" transform="matrix(1.87 0 0 -.85 4419 53)">G</text>
<text class="t" transform="matrix(2.19 0 0 .51 4541 0)">T</text><text class="g" transform="matrix(1.87 0 0 -.69 4541 0)">G</text><text class="c" transform="matrix(1.98 0 0 -.72 4541 50)">C</text>
<text class="t" transform="matrix(2.19 0 0 1.06 4662 0)">T</text><text class="c" transform="matrix(1.98 0 0 -.94 4662 0)">C</text><text class="g" transform="matrix(1.87 0 0 -.89 4662 68)">G</text><text class="a" transform="matrix(1.76 0 0 -.51 4662 132)">A</text>
<text class="a" transform="matrix(1.76 0 0 .6 4783 -27)">A</text><text class="t" transform="matrix(2.19 0 0 .38 4783 0)">T</text><text class="c" transform="matrix(1.98 0 0 -1.58 4783 0)">C</text>
<text class="t" transform="matrix(2.19 0 0 .38 4905 0)">T</text><text class="g" transform="matrix(1.87 0 0 -.69 4905 0)">G</text><text class="c" transform="matrix(1.98 0 0 -.68 4905 50)">C</text>
<text class="g" transform="matrix(1.87 0 0 .25 5026 -9)">G</text><text class="t" transform="matrix(2.19 0 0 .13 5026 0)">T</text><text class="c" transform="matrix(1.98 0 0 -1.15 5026 0)">C</text>
<text class="a" transform="matrix(1.76 0 0 .56 5147 -18)">A</text><text class="t" transform="matrix(2.19 0 0 .25 5147 0)">T</text><text class="c" transform="matrix(1.98 0 0 -.86 5147 0)">C</text><text class="g" transform="matrix(1.87 0 0 -.13 5147 62)">G</text>
<text class="t" transform="matrix(2.19 0 0 .32 5269 0)">T</text><text class="g" transform="matrix(1.87 0 0 -.78 5269 0)">G</text><text class="c" transform="matrix(1.98 0 0 -.68 5269 56)">C</text>
<text class="a" transform="matrix(1.76 0 0 .25 5390 0)">A</text><text class="c" transform="matrix(1.98 0 0 -.51 5390 0)">C</text><text class="t" transform="matrix(2.19 0 0 -.39 5390 37)">T</text>
<text class="a" transform="matrix(1.76 0 0 .5 5511 0)">A</text><text class="c" transform="matrix(1.98 0 0 -.21 5511 4)">C</text><text class="g" transform="matrix(1.87 0 0 -.29 5511 19)">G</text>
<text class="t" transform="matrix(2.19 0 0 .29 5633 -9)">T</text><text class="g" transform="matrix(1.87 0 0 .13 5633 0)">G</text><text class="c" transform="matrix(1.98 0 0 -.82 5633 0)">C</text><text class="a" transform="matrix(1.76 0 0 -.08 5633 59)">A</text>
<text class="t" transform="matrix(2.19 0 0 .74 5754 0)">T</text><text class="c" transform="matrix(1.98 0 0 -.82 5754 0)">C</text><text class="g" transform="matrix(1.87 0 0 -.54 5754 59)">G</text>
<text class="t" transform="matrix(2.19 0 0 .5 5875 -18)">T</text><text class="a" transform="matrix(1.76 0 0 .25 5875 0)">A</text><text class="c" transform="matrix(1.98 0 0 -1.11 5875 0)">C</text><text class="g" transform="matrix(1.87 0 0 -.26 5875 80)">G</text>
<text class="g" transform="matrix(1.87 0 0 .26 5997 -9)">G</text><text class="a" transform="matrix(1.76 0 0 .13 5997 0)">A</text><text class="c" transform="matrix(1.98 0 0 -.61 5997 0)">C</text><text class="t" transform="matrix(2.19 0 0 -.21 5997 44)">T</text>
<text class="t" transform="matrix(2.19 0 0 .67 6118 -18)">T</text><text class="a" transform="matrix(1.76 0 0 .25 6118 0)">A</text><text class="g" transform="matrix(1.87 0 0 -.61 6118 0)">G</text><text class="c" transform="matrix(1.98 0 0 -.64 6118 44)">C</text>
<text class="t" transform="matrix(2.19 0 0 .57 6239 -12)">T</text><text class="a" transform="matrix(1.76 0 0 .17 6239 0)">A</text><text class="c" transform="matrix(1.98 0 0 -.43 6239 0)">C</text><text class="g" transform="matrix(1.87 0 0 -.56 6239 31)">G</text>
<text class="t" transform="matrix(2.19 0 0 .13 6361 0)">T</text><text class="c" transform="matrix(1.98 0 0 -.78 6361 0)">C</text><text class="g" transform="matrix(1.87 0 0 -.33 6361 56)">G</text><text class="a" transform="matrix(1.76 0 0 -.21 6361 80)">A</text>
</g>

<g class="L" transform="translate(0 4126)">
<text class="g" transform="matrix(1.87 0 0 -.32 1021 0)">G</text><text class="c" transform="matrix(1.98 0 0 -.35 1021 23)">C</text><text class="t" transform="matrix(2.19 0 0 -.15 1021 48)">T</text><text class="a" transform="matrix(1.76 0 0 -.22 1021 59)">A</text>
<text class="t" transform="matrix(2.19 0 0 .24 1143 0)">T</text><text class="g" transform="matrix(1.87 0 0 -.65 1143 0)">G</text><text class="a" transform="matrix(1.76 0 0 -.31 1143 47)">A</text><text class="c" transform="matrix(1.98 0 0 -.33 1143 69)">C</text>
<text class="g" transform="matrix(1.87 0 0 -.4 1264 0)">G</text><text class="a" transform="matrix(1.76 0 0 -.38 1264 29)">A</text><text class="c" transform="matrix(1.98 0 0 -.26 1264 56)">C</text><text class="t" transform="matrix(2.19 0 0 -.21 1264 75)">T</text>
<text class="c" transform="matrix(1.98 0 0 .13 1385 0)">C</text><text class="t" transform="matrix(2.19 0 0 -.65 1385 0)">T</text><text class="g" transform="matrix(1.87 0 0 -.43 1385 47)">G</text><text class="a" transform="matrix(1.76 0 0 -.25 1385 78)">A</text>
<text class="a" transform="matrix(1.76 0 0 .21 1507 0)">A</text><text class="g" transform="matrix(1.87 0 0 -.69 1507 0)">G</text><text class="c" transform="matrix(1.98 0 0 -.56 1507 50)">C</text><text class="t" transform="matrix(2.19 0 0 -.17 1507 90)">T</text>
<text class="t" transform="matrix(2.19 0 0 .5 1628 0)">T</text><text class="c" transform="matrix(1.98 0 0 -.58 1628 0)">C</text><text class="g" transform="matrix(1.87 0 0 -.5 1628 42)">G</text><text class="a" transform="matrix(1.76 0 0 -.21 1628 78)">A</text>
<text class="g" transform="matrix(1.87 0 0 .15 1749 0)">G</text><text class="t" transform="matrix(2.19 0 0 -.44 1749 0)">T</text><text class="c" transform="matrix(1.98 0 0 -.21 1749 32)">C</text><text class="a" transform="matrix(1.76 0 0 -.17 1749 47)">A</text>
<text class="t" transform="matrix(2.19 0 0 .13 1871 0)">T</text><text class="c" transform="matrix(1.98 0 0 -.4 1871 0)">C</text><text class="g" transform="matrix(1.87 0 0 -.21 1871 29)">G</text><text class="a" transform="matrix(1.76 0 0 -.17 1871 44)">A</text>
<text class="c" transform="matrix(1.98 0 0 -.24 1992 0)">C</text><text class="g" transform="matrix(1.87 0 0 -.21 1992 17)">G</text>
<text class="t" transform="matrix(2.19 0 0 -.28 2114 0)">T</text><text class="a" transform="matrix(1.76 0 0 -.1 2114 20)">A</text><text class="c" transform="matrix(1.98 0 0 -.14 2114 28)">C</text>
<text class="t" transform="matrix(2.19 0 0 .13 2235 -11)">T</text><text class="a" transform="matrix(1.76 0 0 .15 2235 0)">A</text><text class="g" transform="matrix(1.87 0 0 -.24 2235 0)">G</text>
<text class="c" transform="matrix(1.98 0 0 .32 2356 -11)">C</text><text class="t" transform="matrix(2.19 0 0 .15 2356 0)">T</text><text class="a" transform="matrix(1.76 0 0 -.28 2356 0)">A</text>
<text class="g" transform="matrix(1.87 0 0 .15 2478 0)">G</text><text class="c" transform="matrix(1.98 0 0 -.53 2478 0)">C</text><text class="a" transform="matrix(1.76 0 0 -.11 2478 38)">A</text>
<text class="a" transform="matrix(1.76 0 0 .33 2599 0)">A</text><text class="c" transform="matrix(1.98 0 0 -.32 2599 0)">C</text><text class="g" transform="matrix(1.87 0 0 -.17 2599 23)">G</text><text class="t" transform="matrix(2.19 0 0 -.13 2599 35)">T</text>
<text class="t" transform="matrix(2.19 0 0 .19 2720 0)">T</text><text class="g" transform="matrix(1.87 0 0 -.19 2720 0)">G</text><text class="c" transform="matrix(1.98 0 0 -.25 2720 14)">C</text>
<text class="g" transform="matrix(1.87 0 0 .11 2842 0)">G</text><text class="a" transform="matrix(1.76 0 0 -.47 2842 4)">A</text><text class="c" transform="matrix(1.98 0 0 -.33 2842 38)">C</text>
<text class="c" transform="matrix(1.98 0 0 .04 2963 0)">C</text><text class="c" transform="matrix(1.98 0 0 -.14 2963 0)">C</text><text class="g" transform="matrix(1.87 0 0 -.26 2963 10)">G</text>
<text class="a" transform="matrix(1.76 0 0 .39 3084 -8)">A</text><text class="t" transform="matrix(2.19 0 0 .11 3084 0)">T</text><text class="c" transform="matrix(1.98 0 0 -.57 3084 0)">C</text>
<text class="g" transform="matrix(1.87 0 0 .71 3206 0)">G</text><text class="c" transform="matrix(1.98 0 0 -.57 3206 0)">C</text><text class="t" transform="matrix(2.19 0 0 -.21 3206 41)">T</text><text class="a" transform="matrix(1.76 0 0 -.18 3206 56)">A</text>
<text class="g" transform="matrix(1.87 0 0 1.04 3327 -8)">G</text><text class="t" transform="matrix(2.19 0 0 .11 3327 0)">T</text><text class="c" transform="matrix(1.98 0 0 -.86 3327 0)">C</text><text class="a" transform="matrix(1.76 0 0 -.26 3327 62)">A</text><text class="t" transform="matrix(2.19 0 0 -.21 3327 81)">T</text>
<text class="t" transform="matrix(2.19 0 0 .39 3448 -8)">T</text><text class="g" transform="matrix(1.87 0 0 .11 3448 0)">G</text><text class="a" transform="matrix(1.76 0 0 -.39 3448 4)">A</text><text class="c" transform="matrix(1.98 0 0 -.17 3448 32)">C</text>
<text class="c" transform="matrix(1.98 0 0 .4 3570 0)">C</text><text class="a" transform="matrix(1.76 0 0 -.36 3570 0)">A</text><text class="g" transform="matrix(1.87 0 0 -.17 3570 26)">G</text><text class="t" transform="matrix(2.19 0 0 -.08 3570 38)">T</text>
<text class="a" transform="matrix(1.76 0 0 .39 3691 -14)">A</text><text class="c" transform="matrix(1.98 0 0 .19 3691 0)">C</text><text class="t" transform="matrix(2.19 0 0 -.61 3691 0)">T</text><text class="g" transform="matrix(1.87 0 0 -.21 3691 44)">G</text>
<text class="c" transform="matrix(1.98 0 0 1.89 3812 0)">C</text><text class="t" transform="matrix(2.19 0 0 -1.14 3812 0)">T</text><text class="a" transform="matrix(1.76 0 0 -1.04 3812 82)">A</text><text class="g" transform="matrix(1.87 0 0 -.85 3812 157)">G</text>
<text class="g" transform="matrix(1.87 0 0 1 3934 0)">G</text><text class="a" transform="matrix(1.76 0 0 -.82 3934 0)">A</text><text class="t" transform="matrix(2.19 0 0 -.81 3934 59)">T</text><text class="c" transform="matrix(1.98 0 0 -.26 3934 117)">C</text>
<text class="c" transform="matrix(1.98 0 0 1.92 4055 -32)">C</text><text class="g" transform="matrix(1.87 0 0 .44 4055 0)">G</text><text class="a" transform="matrix(1.76 0 0 -1.85 4055 0)">A</text><text class="t" transform="matrix(2.19 0 0 -.85 4055 133)">T</text>
<text class="c" transform="matrix(1.98 0 0 1.47 4176 0)">C</text><text class="t" transform="matrix(2.19 0 0 -1.63 4176 0)">T</text><text class="a" transform="matrix(1.76 0 0 -1.07 4176 117)">A</text>
<text class="c" transform="matrix(1.98 0 0 .4 4298 0)">C</text><text class="g" transform="matrix(1.87 0 0 -1.25 4298 0)">G</text><text class="a" transform="matrix(1.76 0 0 -.56 4298 90)">A</text><text class="t" transform="matrix(2.19 0 0 -.13 4298 130)">T</text>
<text class="a" transform="matrix(1.76 0 0 -.28 4419 0)">A</text><text class="g" transform="matrix(1.87 0 0 -.38 4419 20)">G</text><text class="t" transform="matrix(2.19 0 0 -.18 4419 47)">T</text><text class="c" transform="matrix(1.98 0 0 -.33 4419 60)">C</text>
<text class="c" transform="matrix(1.98 0 0 .43 4541 -8)">C</text><text class="t" transform="matrix(2.19 0 0 .11 4541 0)">T</text><text class="a" transform="matrix(1.76 0 0 -.36 4541 0)">A</text><text class="g" transform="matrix(1.87 0 0 -.46 4541 26)">G</text>
<text class="t" transform="matrix(2.19 0 0 .53 4662 -20)">T</text><text class="g" transform="matrix(1.87 0 0 .28 4662 0)">G</text><text class="c" transform="matrix(1.98 0 0 -.61 4662 0)">C</text><text class="a" transform="matrix(1.76 0 0 -.13 4662 44)">A</text>
<text class="g" transform="matrix(1.87 0 0 .64 4783 -11)">G</text><text class="a" transform="matrix(1.76 0 0 .15 4783 0)">A</text><text class="c" transform="matrix(1.98 0 0 -.61 4783 0)">C</text>
<text class="t" transform="matrix(2.19 0 0 .44 4905 0)">T</text><text class="a" transform="matrix(1.76 0 0 -.24 4905 0)">A</text><text class="c" transform="matrix(1.98 0 0 -.17 4905 17)">C</text>
<text class="g" transform="matrix(1.87 0 0 .67 5026 0)">G</text><text class="a" transform="matrix(1.76 0 0 -.19 5026 0)">A</text><text class="c" transform="matrix(1.98 0 0 -.17 5026 17)">C</text>
<text class="g" transform="matrix(1.87 0 0 .63 5147 0)">G</text><text class="a" transform="matrix(1.76 0 0 -.28 5147 0)">A</text>
<text class="g" transform="matrix(1.87 0 0 .24 5269 0)">G</text><text class="a" transform="matrix(1.76 0 0 -.28 5269 0)">A</text>
<text class="g" transform="matrix(1.87 0 0 .36 5390 0)">G</text><text class="c" transform="matrix(1.98 0 0 -.1 5390 0)">C</text><text class="t" transform="matrix(2.19 0 0 -.18 5390 7)">T</text>
<text class="c" transform="matrix(1.98 0 0 .26 5511 -23)">C</text><text class="g" transform="matrix(1.87 0 0 .32 5511 0)">G</text><text class="t" transform="matrix(2.19 0 0 -.07 5511 0)">T</text>
<text class="g" transform="matrix(1.87 0 0 .51 5633 -14)">G</text><text class="t" transform="matrix(2.19 0 0 .19 5633 0)">T</text><text class="c" transform="matrix(1.98 0 0 -.17 5633 8)">C</text>
<text class="g" transform="matrix(1.87 0 0 .63 5754 -26)">G</text><text class="t" transform="matrix(2.19 0 0 .36 5754 0)">T</text><text class="c" transform="matrix(1.98 0 0 -.21 5754 14)">C</text>
<text class="g" transform="matrix(1.87 0 0 .67 5875 0)">G</text><text class="a" transform="matrix(1.76 0 0 -.28 5875 0)">A</text>
<text class="g" transform="matrix(1.87 0 0 .81 5997 -8)">G</text><text class="t" transform="matrix(2.19 0 0 .11 5997 0)">T</text><text class="t" transform="matrix(2.19 0 0 -.22 5997 4)">T</text>
<text class="t" transform="matrix(2.19 0 0 .35 6118 -20)">T</text><text class="c" transform="matrix(1.98 0 0 .28 6118 0)">C</text><text class="a" transform="matrix(1.76 0 0 -.07 6118 0)">A</text>
<text class="g" transform="matrix(1.87 0 0 .54 6239 0)">G</text>
<text class="g" transform="matrix(1.87 0 0 .28 6361 0)">G</text><text class="a" transform="matrix(1.76 0 0 -.24 6361 0)">A</text>
</g>

<g class="L" transform="translate(0 4604.6)">
<text class="t" transform="matrix(2.19 0 0 .06 1021 0)">T</text><text class="c" transform="matrix(1.98 0 0 -.92 1021 0)">C</text><text class="g" transform="matrix(1.87 0 0 -.82 1021 66)">G</text><text class="a" transform="matrix(1.76 0 0 -.14 1021 125)">A</text>
<text class="t" transform="matrix(2.19 0 0 .97 1143 0)">T</text><text class="g" transform="matrix(1.87 0 0 -1.81 1143 0)">G</text><text class="c" transform="matrix(1.98 0 0 -.79 1143 130)">C</text><text class="a" transform="matrix(1.76 0 0 -.25 1143 187)">A</text>
<text class="t" transform="matrix(2.19 0 0 .26 1264 0)">T</text><text class="g" transform="matrix(1.87 0 0 -1.13 1264 0)">G</text><text class="c" transform="matrix(1.98 0 0 -.68 1264 81)">C</text><text class="a" transform="matrix(1.76 0 0 -.42 1264 130)">A</text>
<text class="a" transform="matrix(1.76 0 0 .31 1385 0)">A</text><text class="g" transform="matrix(1.87 0 0 -1 1385 0)">G</text><text class="t" transform="matrix(2.19 0 0 -.67 1385 72)">T</text><text class="c" transform="matrix(1.98 0 0 -.69 1385 120)">C</text>
<text class="a" transform="matrix(1.76 0 0 .99 1507 -26)">A</text><text class="t" transform="matrix(2.19 0 0 .36 1507 0)">T</text><text class="g" transform="matrix(1.87 0 0 -1.56 1507 0)">G</text><text class="c" transform="matrix(1.98 0 0 -1.6 1507 112)">C</text>
<text class="t" transform="matrix(2.19 0 0 1.49 1628 0)">T</text><text class="c" transform="matrix(1.98 0 0 -1.61 1628 0)">C</text><text class="g" transform="matrix(1.87 0 0 -1.06 1628 116)">G</text>
<text class="a" transform="matrix(1.76 0 0 .32 1749 -6)">A</text><text class="g" transform="matrix(1.87 0 0 .08 1749 0)">G</text><text class="c" transform="matrix(1.98 0 0 -.61 1749 0)">C</text><text class="t" transform="matrix(2.19 0 0 -.49 1749 44)">T</text>
<text class="t" transform="matrix(2.19 0 0 .49 1871 -19)">T</text><text class="a" transform="matrix(1.76 0 0 .26 1871 0)">A</text><text class="c" transform="matrix(1.98 0 0 -.93 1871 0)">C</text><text class="g" transform="matrix(1.87 0 0 -.65 1871 67)">G</text>
<text class="a" transform="matrix(1.76 0 0 .49 1992 -17)">A</text><text class="t" transform="matrix(2.19 0 0 .24 1992 0)">T</text><text class="c" transform="matrix(1.98 0 0 -.85 1992 0)">C</text><text class="g" transform="matrix(1.87 0 0 -.25 1992 61)">G</text>
<text class="a" transform="matrix(1.76 0 0 .31 2114 -2)">A</text><text class="c" transform="matrix(1.98 0 0 -.39 2114 0)">C</text><text class="g" transform="matrix(1.87 0 0 -.22 2114 28)">G</text>
<text class="t" transform="matrix(2.19 0 0 .83 2235 -19)">T</text><text class="a" transform="matrix(1.76 0 0 .26 2235 0)">A</text><text class="g" transform="matrix(1.87 0 0 -.33 2235 0)">G</text><text class="c" transform="matrix(1.98 0 0 -.53 2235 24)">C</text>
<text class="t" transform="matrix(2.19 0 0 1.24 2356 -6)">T</text><text class="a" transform="matrix(1.76 0 0 .08 2356 0)">A</text><text class="g" transform="matrix(1.87 0 0 -.33 2356 0)">G</text><text class="c" transform="matrix(1.98 0 0 -.25 2356 24)">C</text>
<text class="t" transform="matrix(2.19 0 0 .6 2478 -49)">T</text><text class="g" transform="matrix(1.87 0 0 .44 2478 -17)">G</text><text class="a" transform="matrix(1.76 0 0 .24 2478 0)">A</text><text class="c" transform="matrix(1.98 0 0 -1.31 2478 0)">C</text>
<text class="a" transform="matrix(1.76 0 0 1.29 2599 -26)">A</text><text class="t" transform="matrix(2.19 0 0 .36 2599 0)">T</text><text class="c" transform="matrix(1.98 0 0 -1.17 2599 0)">C</text>
<text class="t" transform="matrix(2.19 0 0 1.03 2720 -6)">T</text><text class="a" transform="matrix(1.76 0 0 .08 2720 0)">A</text><text class="c" transform="matrix(1.98 0 0 -.4 2720 0)">C</text><text class="g" transform="matrix(1.87 0 0 -.42 2720 29)">G</text>
<text class="g" transform="matrix(1.87 0 0 .49 2842 -17)">G</text><text class="a" transform="matrix(1.76 0 0 .24 2842 0)">A</text><text class="c" transform="matrix(1.98 0 0 -1 2842 0)">C</text><text class="t" transform="matrix(2.19 0 0 -.44 2842 72)">T</text>
<text class="a" transform="matrix(1.76 0 0 .64 2963 -31)">A</text><text class="t" transform="matrix(2.19 0 0 .43 2963 0)">T</text><text class="c" transform="matrix(1.98 0 0 -.85 2963 0)">C</text><text class="g" transform="matrix(1.87 0 0 -.46 2963 61)">G</text>
<text class="t" transform="matrix(2.19 0 0 .54 3084 -26)">T</text><text class="g" transform="matrix(1.87 0 0 .31 3084 -4)">G</text><text class="a" transform="matrix(1.76 0 0 .06 3084 0)">A</text><text class="c" transform="matrix(1.98 0 0 -.85 3084 0)">C</text>
<text class="g" transform="matrix(1.87 0 0 .49 3206 -22)">G</text><text class="t" transform="matrix(2.19 0 0 .28 3206 -2)">T</text><text class="c" transform="matrix(1.98 0 0 -.47 3206 0)">C</text>
<text class="t" transform="matrix(2.19 0 0 1.15 3327 -16)">T</text><text class="g" transform="matrix(1.87 0 0 .22 3327 0)">G</text><text class="c" transform="matrix(1.98 0 0 -.9 3327 0)">C</text><text class="a" transform="matrix(1.76 0 0 -.56 3327 65)">A</text>
<text class="g" transform="matrix(1.87 0 0 1.04 3448 -45)">G</text><text class="t" transform="matrix(2.19 0 0 .63 3448 0)">T</text><text class="c" transform="matrix(1.98 0 0 -.93 3448 0)">C</text><text class="a" transform="matrix(1.76 0 0 -.22 3448 71)">A</text>
<text class="g" transform="matrix(1.87 0 0 1.29 3570 -52)">G</text><text class="a" transform="matrix(1.76 0 0 .46 3570 -19)">A</text><text class="t" transform="matrix(2.19 0 0 .26 3570 0)">T</text><text class="c" transform="matrix(1.98 0 0 -1.49 3570 0)">C</text>
<text class="a" transform="matrix(1.76 0 0 .92 3691 -52)">A</text><text class="g" transform="matrix(1.87 0 0 .49 3691 -17)">G</text><text class="t" transform="matrix(2.19 0 0 .24 3691 0)">T</text><text class="c" transform="matrix(1.98 0 0 -1.13 3691 0)">C</text>
<text class="t" transform="matrix(2.19 0 0 1.13 3812 -24)">T</text><text class="a" transform="matrix(1.76 0 0 .33 3812 0)">A</text><text class="c" transform="matrix(1.98 0 0 -.47 3812 0)">C</text><text class="g" transform="matrix(1.87 0 0 -.56 3812 34)">G</text>
<text class="t" transform="matrix(2.19 0 0 .99 3934 -46)">T</text><text class="g" transform="matrix(1.87 0 0 .56 3934 -6)">G</text><text class="a" transform="matrix(1.76 0 0 .08 3934 0)">A</text><text class="c" transform="matrix(1.98 0 0 -.4 3934 0)">C</text>
<text class="c" transform="matrix(1.98 0 0 .93 4055 -50)">C</text><text class="t" transform="matrix(2.19 0 0 .57 4055 -9)">T</text><text class="g" transform="matrix(1.87 0 0 .13 4055 0)">G</text><text class="a" transform="matrix(1.76 0 0 -.46 4055 0)">A</text>
<text class="a" transform="matrix(1.76 0 0 .82 4176 -6)">A</text><text class="t" transform="matrix(2.19 0 0 .08 4176 0)">T</text><text class="c" transform="matrix(1.98 0 0 -.61 4176 0)">C</text><text class="g" transform="matrix(1.87 0 0 -.24 4176 44)">G</text>
<text class="t" transform="matrix(2.19 0 0 1.15 4298 -6)">T</text><text class="a" transform="matrix(1.76 0 0 .08 4298 0)">A</text><text class="c" transform="matrix(1.98 0 0 -.71 4298 0)">C</text><text class="g" transform="matrix(1.87 0 0 -.46 4298 51)">G</text>
<text class="t" transform="matrix(2.19 0 0 1.51 4419 -50)">T</text><text class="g" transform="matrix(1.87 0 0 .61 4419 -6)">G</text><text class="a" transform="matrix(1.76 0 0 .08 4419 0)">A</text><text class="c" transform="matrix(1.98 0 0 -.85 4419 0)">C</text>
<text class="t" transform="matrix(2.19 0 0 1.17 4541 -24)">T</text><text class="g" transform="matrix(1.87 0 0 .33 4541 0)">G</text><text class="a" transform="matrix(1.76 0 0 -.18 4541 0)">A</text><text class="c" transform="matrix(1.98 0 0 -.14 4541 13)">C</text>
<text class="t" transform="matrix(2.19 0 0 1.13 4662 -39)">T</text><text class="g" transform="matrix(1.87 0 0 .51 4662 -2)">G</text><text class="c" transform="matrix(1.98 0 0 -1.26 4662 0)">C</text>
<text class="a" transform="matrix(1.76 0 0 .96 4783 -77)">A</text><text class="t" transform="matrix(2.19 0 0 1.01 4783 -4)">T</text><text class="c" transform="matrix(1.98 0 0 -1.44 4783 0)">C</text>
<text class="t" transform="matrix(2.19 0 0 1.28 4905 0)">T</text><text class="g" transform="matrix(1.87 0 0 -.39 4905 0)">G</text><text class="c" transform="matrix(1.98 0 0 -.5 4905 28)">C</text>
<text class="g" transform="matrix(1.87 0 0 1.18 5026 -42)">G</text><text class="t" transform="matrix(2.19 0 0 .58 5026 0)">T</text><text class="c" transform="matrix(1.98 0 0 -.75 5026 0)">C</text><text class="a" transform="matrix(1.76 0 0 -.14 5026 54)">A</text>
<text class="a" transform="matrix(1.76 0 0 .75 5147 -77)">A</text><text class="g" transform="matrix(1.87 0 0 .57 5147 -36)">G</text><text class="t" transform="matrix(2.19 0 0 .5 5147 0)">T</text><text class="c" transform="matrix(1.98 0 0 -.86 5147 0)">C</text>
<text class="t" transform="matrix(2.19 0 0 .63 5269 -4)">T</text><text class="g" transform="matrix(1.87 0 0 -.33 5269 0)">G</text><text class="a" transform="matrix(1.76 0 0 -.28 5269 24)">A</text>
<text class="a" transform="matrix(1.76 0 0 .67 5390 -39)">A</text><text class="g" transform="matrix(1.87 0 0 .39 5390 -11)">G</text><text class="t" transform="matrix(2.19 0 0 .15 5390 0)">T</text><text class="c" transform="matrix(1.98 0 0 -.47 5390 0)">C</text>
<text class="t" transform="matrix(2.19 0 0 .89 5511 -30)">T</text><text class="a" transform="matrix(1.76 0 0 .42 5511 0)">A</text><text class="c" transform="matrix(1.98 0 0 -.06 5511 0)">C</text>
<text class="t" transform="matrix(2.19 0 0 .9 5633 -50)">T</text><text class="g" transform="matrix(1.87 0 0 .69 5633 0)">G</text><text class="c" transform="matrix(1.98 0 0 -.29 5633 0)">C</text>
<text class="t" transform="matrix(2.19 0 0 1.06 5754 -69)">T</text><text class="g" transform="matrix(1.87 0 0 .96 5754 0)">G</text><text class="c" transform="matrix(1.98 0 0 -.43 5754 3)">C</text><text class="a" transform="matrix(1.76 0 0 -.11 5754 34)">A</text>
<text class="g" transform="matrix(1.87 0 0 .89 5875 -62)">G</text><text class="t" transform="matrix(2.19 0 0 .71 5875 -11)">T</text><text class="a" transform="matrix(1.76 0 0 .15 5875 0)">A</text><text class="c" transform="matrix(1.98 0 0 -.65 5875 0)">C</text>
<text class="g" transform="matrix(1.87 0 0 1.28 5997 -50)">G</text><text class="a" transform="matrix(1.76 0 0 .53 5997 -12)">A</text><text class="t" transform="matrix(2.19 0 0 .17 5997 0)">T</text><text class="c" transform="matrix(1.98 0 0 -.33 5997 0)">C</text>
<text class="t" transform="matrix(2.19 0 0 .97 6118 -55)">T</text><text class="a" transform="matrix(1.76 0 0 .5 6118 -19)">A</text><text class="c" transform="matrix(1.98 0 0 .26 6118 0)">C</text><text class="g" transform="matrix(1.87 0 0 -.19 6118 0)">G</text>
<text class="t" transform="matrix(2.19 0 0 .64 6239 -59)">T</text><text class="a" transform="matrix(1.76 0 0 .46 6239 -26)">A</text><text class="g" transform="matrix(1.87 0 0 .36 6239 0)">G</text><text class="c" transform="matrix(1.98 0 0 -.06 6239 0)">C</text>
<text class="t" transform="matrix(2.19 0 0 .35 6361 -24)">T</text><text class="g" transform="matrix(1.87 0 0 .33 6361 0)">G</text><text class="c" transform="matrix(1.98 0 0 -.32 6361 0)">C</text>
</g>

<g class="L" transform="translate(0 5320.4)">
<text class="g" transform="matrix(1.87 0 0 .11 1021 0)">G</text>
<text class="c" transform="matrix(1.98 0 0 .22 1264 0)">C</text>
<text class="a" transform="matrix(1.76 0 0 .31 1385 0)">A</text>
<text class="t" transform="matrix(2.19 0 0 .11 1507 0)">T</text>
<text class="t" transform="matrix(2.19 0 0 .19 1628 0)">T</text>
<text class="a" transform="matrix(1.76 0 0 .14 1749 0)">A</text>
<text class="a" transform="matrix(1.76 0 0 .14 1871 0)">A</text>
<text class="c" transform="matrix(1.98 0 0 .36 1992 0)">C</text>
<text class="g" transform="matrix(1.87 0 0 .33 2114 0)">G</text>
<text class="c" transform="matrix(1.98 0 0 .11 2235 0)">C</text>
<text class="t" transform="matrix(2.19 0 0 .11 2356 0)">T</text>
<text class="g" transform="matrix(1.87 0 0 .11 2478 0)">G</text>
<text class="c" transform="matrix(1.98 0 0 .25 2599 0)">C</text>
<text class="g" transform="matrix(1.87 0 0 .17 2720 0)">G</text>
<text class="g" transform="matrix(1.87 0 0 .28 2842 0)">G</text>
<text class="g" transform="matrix(1.87 0 0 .11 2963 0)">G</text>
<text class="t" transform="matrix(2.19 0 0 .11 3084 0)">T</text>
<text class="g" transform="matrix(1.87 0 0 .32 3206 -15)">G</text><text class="a" transform="matrix(1.76 0 0 .21 3206 0)">A</text>
<text class="g" transform="matrix(1.87 0 0 .24 3327 -18)">G</text><text class="t" transform="matrix(2.19 0 0 .25 3327 0)">T</text>
<text class="c" transform="matrix(1.98 0 0 1.19 3448 -42)">C</text><text class="t" transform="matrix(2.19 0 0 .28 3448 -20)">T</text><text class="a" transform="matrix(1.76 0 0 .28 3448 0)">A</text>
<text class="c" transform="matrix(1.98 0 0 .85 3570 -54)">C</text><text class="t" transform="matrix(2.19 0 0 .47 3570 -18)">T</text><text class="a" transform="matrix(1.76 0 0 .25 3570 0)">A</text>
<text class="c" transform="matrix(1.98 0 0 1.75 3691 -63)">C</text><text class="a" transform="matrix(1.76 0 0 .83 3691 0)">A</text>
<text class="c" transform="matrix(1.98 0 0 4.25 3812 -26)">C</text><text class="t" transform="matrix(2.19 0 0 .25 3812 0)">T</text>
<text class="g" transform="matrix(1.87 0 0 4.43 3934 -21)">G</text><text class="a" transform="matrix(1.76 0 0 .17 3934 0)">A</text>
<text class="c" transform="matrix(1.98 0 0 5.13 4055 -10)">C</text>
<text class="c" transform="matrix(1.98 0 0 5 4176 -10)">C</text>
<text class="c" transform="matrix(1.98 0 0 1.29 4298 -102)">C</text><text class="t" transform="matrix(2.19 0 0 1.38 4298 0)">T</text>
<text class="c" transform="matrix(1.98 0 0 .26 4419 -22)">C</text><text class="a" transform="matrix(1.76 0 0 .31 4419 0)">A</text>
<text class="c" transform="matrix(1.98 0 0 .14 4541 0)">C</text>
<text class="c" transform="matrix(1.98 0 0 .25 4662 -10)">C</text><text class="g" transform="matrix(1.87 0 0 .14 4662 0)">G</text>
<text class="t" transform="matrix(2.19 0 0 .21 4783 0)">T</text>
<text class="c" transform="matrix(1.98 0 0 .14 4905 0)">C</text>
<text class="a" transform="matrix(1.76 0 0 .17 5026 0)">A</text>
<text class="g" transform="matrix(1.87 0 0 .11 5147 0)">G</text>
<text class="c" transform="matrix(1.98 0 0 .11 5269 0)">C</text>
<text class="c" transform="matrix(1.98 0 0 .19 5390 0)">C</text>
<text class="t" transform="matrix(2.19 0 0 .14 5511 0)">T</text>
<text class="c" transform="matrix(1.98 0 0 .22 5633 0)">C</text>
<text class="c" transform="matrix(1.98 0 0 .28 5754 0)">C</text>
<text class="c" transform="matrix(1.98 0 0 .14 5875 0)">C</text>
<text class="t" transform="matrix(2.19 0 0 .11 5997 0)">T</text>
<text class="c" transform="matrix(1.98 0 0 .08 6118 0)">C</text>
<text class="g" transform="matrix(1.87 0 0 .08 6239 0)">G</text>
<text class="a" transform="matrix(1.76 0 0 .11 6361 0)">A</text>
</g>
</svg>
</body></html>
